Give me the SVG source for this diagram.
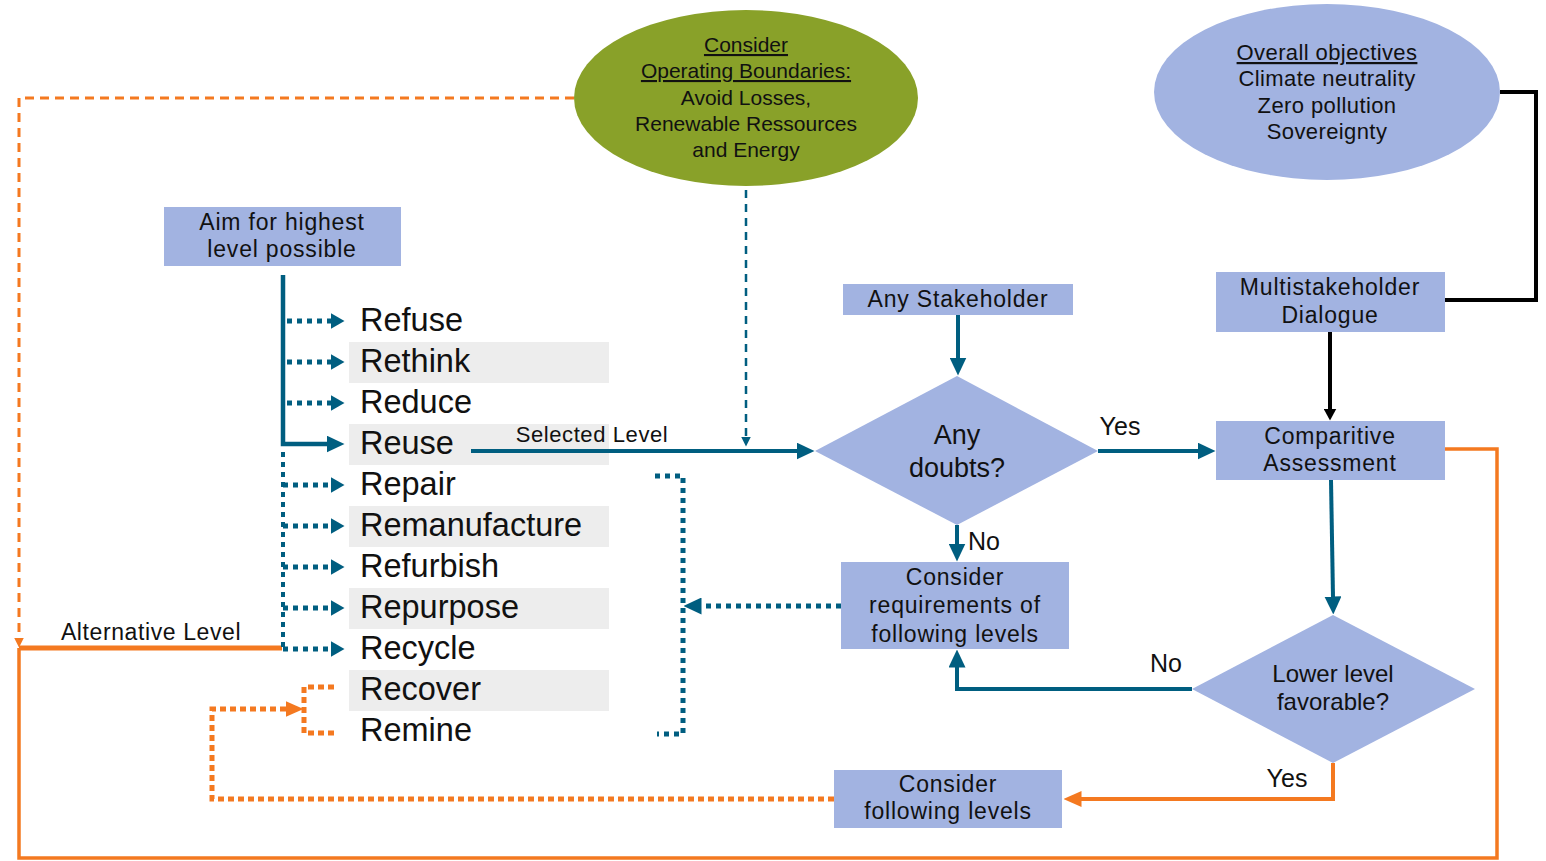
<svg xmlns="http://www.w3.org/2000/svg" width="1546" height="861" viewBox="0 0 1546 861">
<style>
text{font-family:"Liberation Sans",Arial,sans-serif;fill:#111;text-anchor:middle}
.box{fill:#A2B3E1}
.bar{fill:#EDEDED}
.rl{font-size:32.5px;text-anchor:start}
.t23{font-size:23px;letter-spacing:0.8px}
.t22{font-size:22px;letter-spacing:0.4px}
.t21{font-size:21px}
.u{text-decoration:underline}
.bl{fill:none;stroke:#005E80;stroke-width:4}
.bdot{fill:none;stroke:#005E80;stroke-width:5;stroke-dasharray:5 5}
.bdash{fill:none;stroke:#005E80;stroke-width:2.5;stroke-dasharray:8 6}
.or{fill:none;stroke:#F47920;stroke-width:3.5}
.odot{fill:none;stroke:#F47920;stroke-width:5;stroke-dasharray:6 4}
.odash{fill:none;stroke:#F47920;stroke-width:3;stroke-dasharray:9 6}
.bk{fill:none;stroke:#000;stroke-width:4}
</style>
<defs>
<marker id="aB" markerUnits="userSpaceOnUse" viewBox="0 0 18 17" refX="0.5" refY="8.5" markerWidth="18" markerHeight="17" orient="auto"><path d="M0,0 L18,8.5 L0,17 z" fill="#005E80"/></marker>
<marker id="aBd" markerUnits="userSpaceOnUse" viewBox="0 0 14 16" refX="0.5" refY="8" markerWidth="14" markerHeight="16" orient="auto"><path d="M0,0 L14,8 L0,16 z" fill="#005E80"/></marker>
<marker id="aBs" markerUnits="userSpaceOnUse" viewBox="0 0 10 10" refX="0.5" refY="5" markerWidth="10" markerHeight="10" orient="auto"><path d="M0,0 L10,5 L0,10 z" fill="#005E80"/></marker>
<marker id="aK" markerUnits="userSpaceOnUse" viewBox="0 0 12 13" refX="0.5" refY="6.5" markerWidth="12" markerHeight="13" orient="auto"><path d="M0,0 L12,6.5 L0,13 z" fill="#000"/></marker>
<marker id="aO" markerUnits="userSpaceOnUse" viewBox="0 0 18 16" refX="0.5" refY="8" markerWidth="18" markerHeight="16" orient="auto"><path d="M0,0 L18,8 L0,16 z" fill="#F47920"/></marker>
<marker id="aOs" markerUnits="userSpaceOnUse" viewBox="0 0 10 10" refX="0.5" refY="5" markerWidth="10" markerHeight="10" orient="auto"><path d="M0,0 L10,5 L0,10 z" fill="#F47920"/></marker>
</defs>

<g id="levels">
<rect class="bar" x="349" y="342" width="260" height="41"/>
<rect class="bar" x="349" y="424" width="260" height="41"/>
<rect class="bar" x="349" y="506" width="260" height="41"/>
<rect class="bar" x="349" y="588" width="260" height="41"/>
<rect class="bar" x="349" y="670" width="260" height="41"/>
<text class="rl" x="360" y="331">Refuse</text>
<text class="rl" x="360" y="372">Rethink</text>
<text class="rl" x="360" y="413">Reduce</text>
<text class="rl" x="360" y="454">Reuse</text>
<text class="rl" x="360" y="495">Repair</text>
<text class="rl" x="360" y="536">Remanufacture</text>
<text class="rl" x="360" y="577">Refurbish</text>
<text class="rl" x="360" y="618">Repurpose</text>
<text class="rl" x="360" y="659">Recycle</text>
<text class="rl" x="360" y="700">Recover</text>
<text class="rl" x="360" y="741">Remine</text>
</g>

<g id="connectors">
<path class="odash" d="M574 98 H19 V638" marker-end="url(#aOs)"/>
<path class="or" d="M1445 449 H1497 V858 H19 V648"/>
<path class="or" style="stroke-width:5" d="M282 648 H19"/>
<path class="bdash" d="M746 190 V437" marker-end="url(#aBs)"/>
<path class="bl" style="stroke-width:4.5" d="M283 275 V444 H327" marker-end="url(#aB)"/>
<path class="bdot" d="M287 321 H331" marker-end="url(#aBd)"/>
<path class="bdot" d="M287 362 H331" marker-end="url(#aBd)"/>
<path class="bdot" d="M287 403 H331" marker-end="url(#aBd)"/>
<path class="bdot" style="stroke-width:4" d="M283 452 V649"/>
<path class="bdot" d="M283 485 H331" marker-end="url(#aBd)"/>
<path class="bdot" d="M283 526 H331" marker-end="url(#aBd)"/>
<path class="bdot" d="M283 567 H331" marker-end="url(#aBd)"/>
<path class="bdot" d="M283 608 H331" marker-end="url(#aBd)"/>
<path class="bdot" d="M283 649 H331" marker-end="url(#aBd)"/>
<path class="bl" d="M471 451 H797" marker-end="url(#aB)"/>
<path class="bl" d="M958 315 V358" marker-end="url(#aB)"/>
<path class="bl" d="M1098 451 H1198" marker-end="url(#aB)"/>
<path class="bl" d="M957 525 V544" marker-end="url(#aB)"/>
<path class="bk" d="M1500 92 H1536 V300 H1445"/>
<path class="bk" d="M1330 332 V409" marker-end="url(#aK)"/>
<path class="bl" d="M1331 480 L1333 597" marker-end="url(#aB)"/>
<path class="bl" d="M1192 689 H957 V667" marker-end="url(#aB)"/>
<path class="or" style="stroke-width:4" d="M1333 763 V799 H1081" marker-end="url(#aO)"/>
<path class="odot" d="M834 799 H212 V709 H286" marker-end="url(#aO)"/>
<path class="odot" d="M334 687 H304 V733 H336"/>
<path class="bdot" d="M655 476 H683 V734 H657"/>
<path class="bdot" d="M841 606 H701" marker-end="url(#aB)"/>
</g>

<g id="labels">
<text x="592" y="442" style="font-size:22px;letter-spacing:0.6px">Selected Level</text>
<text x="151" y="640" style="font-size:23px;letter-spacing:0.6px">Alternative Level</text>
<text x="1120" y="435" style="font-size:25px">Yes</text>
<text x="984" y="550" style="font-size:25px">No</text>
<text x="1166" y="672" style="font-size:25px">No</text>
<text x="1287" y="787" style="font-size:25px">Yes</text>
</g>

<g id="boundaries">
<ellipse cx="746" cy="98" rx="172" ry="88" fill="#89A129"/>
<text class="t21" x="746" y="52"><tspan class="u">Consider</tspan></text>
<text class="t21" x="746" y="78"><tspan class="u">Operating Boundaries:</tspan></text>
<text class="t21" x="746" y="105">Avoid Losses,</text>
<text class="t21" x="746" y="131">Renewable Ressources</text>
<text class="t21" x="746" y="157">and Energy</text>
</g>

<g id="objectives">
<ellipse class="box" cx="1327" cy="92" rx="173" ry="88"/>
<text class="t22" x="1327" y="60"><tspan class="u">Overall objectives</tspan></text>
<text class="t22" x="1327" y="86">Climate neutrality</text>
<text class="t22" x="1327" y="113">Zero pollution</text>
<text class="t22" x="1327" y="139">Sovereignty</text>
</g>

<g id="aim">
<rect class="box" x="164" y="207" width="237" height="59"/>
<text class="t23" x="282" y="230">Aim for highest</text>
<text class="t23" x="282" y="257">level possible</text>
</g>

<g id="stakeholder">
<rect class="box" x="843" y="284" width="230" height="31"/>
<text class="t23" x="958" y="307">Any Stakeholder</text>
</g>

<g id="multistakeholder">
<rect class="box" x="1216" y="272" width="229" height="60"/>
<text class="t23" x="1330" y="295">Multistakeholder</text>
<text class="t23" x="1330" y="323">Dialogue</text>
</g>

<g id="comparitive">
<rect class="box" x="1216" y="421" width="229" height="59"/>
<text class="t23" x="1330" y="444">Comparitive</text>
<text class="t23" x="1330" y="471">Assessment</text>
</g>

<g id="doubts">
<polygon class="box" points="957,376 1098,451 957,525 815,451"/>
<text x="957" y="444" style="font-size:27px">Any</text>
<text x="957" y="477" style="font-size:27px">doubts?</text>
</g>

<g id="requirements">
<rect class="box" x="841" y="562" width="228" height="87"/>
<text class="t23" x="955" y="585">Consider</text>
<text class="t23" x="955" y="613">requirements of</text>
<text class="t23" x="955" y="642">following levels</text>
</g>

<g id="lowerlevel">
<polygon class="box" points="1333,615 1475,689 1333,763 1192,689"/>
<text x="1333" y="682" style="font-size:24px">Lower level</text>
<text x="1333" y="710" style="font-size:24px">favorable?</text>
</g>

<g id="following">
<rect class="box" x="834" y="770" width="228" height="58"/>
<text class="t23" x="948" y="792">Consider</text>
<text class="t23" x="948" y="819">following levels</text>
</g>
</svg>
